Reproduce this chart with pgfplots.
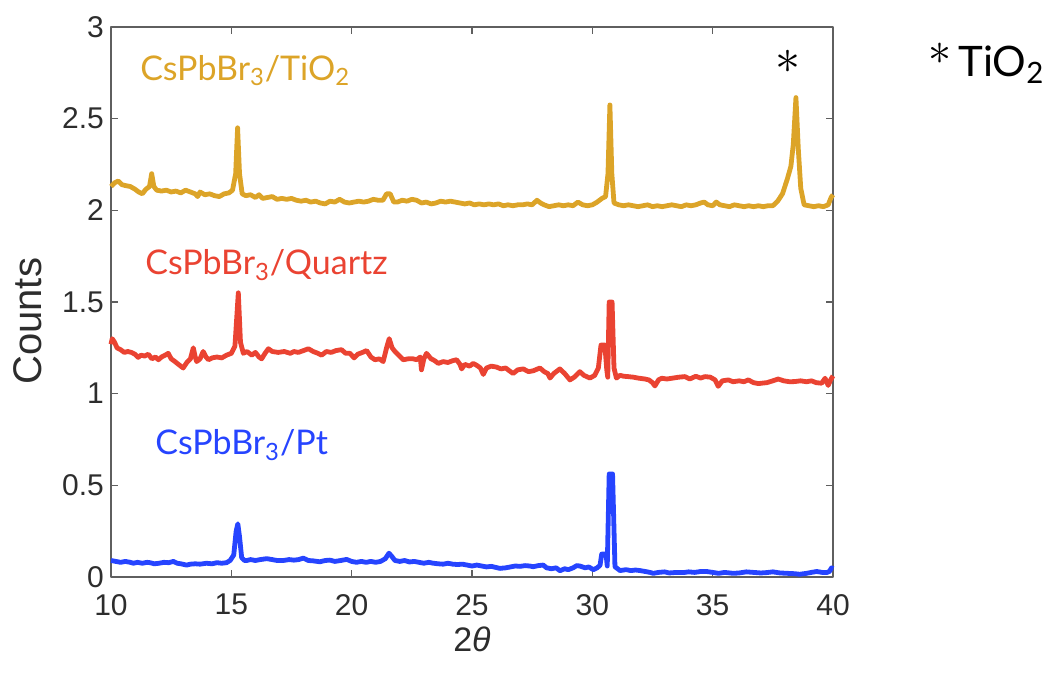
\documentclass[border=0pt]{standalone}
\usepackage{fontspec}
\setmainfont{Liberation Sans}
\newfontfamily\labelfont{Lato}
\usepackage{graphicx}
\usepackage{pgfplots}
\usepackage{pgfplotstable}
\pgfplotsset{compat=1.18}

\definecolor{goldline}{RGB}{220,164,40}
\definecolor{redline}{RGB}{234,67,50}
\definecolor{blueline}{RGB}{38,68,255}
\definecolor{axisgray}{RGB}{95,95,95}
\definecolor{ticktext}{RGB}{45,45,45}

% asterisk used to flag the TiO2 reflection
\newcommand{\refstar}[1]{{\fontsize{10}{12}\selectfont\scalebox{#1}{$\ast$}}}

% XRD patterns, offset vertically by substrate
\pgfplotstableread{
x y
10.00 2.13
10.15 2.15
10.30 2.16
10.45 2.14
10.60 2.135
10.80 2.13
11.00 2.115
11.15 2.10
11.30 2.09
11.45 2.115
11.60 2.13
11.69 2.20
11.78 2.13
11.90 2.11
12.10 2.105
12.30 2.11
12.50 2.10
12.70 2.105
12.90 2.095
13.10 2.11
13.30 2.10
13.50 2.09
13.60 2.075
13.70 2.10
13.90 2.085
14.10 2.09
14.30 2.08
14.50 2.075
14.70 2.09
14.90 2.095
15.05 2.11
15.18 2.20
15.26 2.45
15.34 2.20
15.45 2.09
15.60 2.08
15.80 2.085
16.00 2.07
16.15 2.085
16.30 2.065
16.50 2.07
16.70 2.075
16.90 2.06
17.10 2.065
17.30 2.06
17.50 2.065
17.70 2.055
17.90 2.05
18.10 2.055
18.30 2.045
18.50 2.05
18.70 2.04
18.90 2.035
19.10 2.05
19.30 2.045
19.50 2.06
19.70 2.045
19.90 2.04
20.10 2.045
20.30 2.05
20.50 2.045
20.70 2.05
20.90 2.06
21.10 2.055
21.30 2.055
21.45 2.09
21.60 2.09
21.75 2.045
21.90 2.045
22.10 2.055
22.30 2.05
22.50 2.06
22.70 2.055
22.90 2.04
23.10 2.045
23.30 2.035
23.50 2.04
23.70 2.05
23.90 2.045
24.10 2.05
24.30 2.045
24.50 2.04
24.70 2.035
24.90 2.04
25.10 2.03
25.30 2.035
25.50 2.03
25.70 2.035
25.90 2.03
26.10 2.035
26.30 2.025
26.50 2.03
26.70 2.025
26.90 2.03
27.10 2.03
27.30 2.035
27.50 2.03
27.70 2.055
27.85 2.04
28.00 2.03
28.20 2.02
28.40 2.025
28.60 2.03
28.80 2.025
29.00 2.03
29.20 2.025
29.40 2.045
29.60 2.03
29.80 2.025
30.00 2.03
30.20 2.045
30.40 2.065
30.55 2.075
30.65 2.20
30.73 2.575
30.81 2.20
30.90 2.04
31.10 2.03
31.30 2.025
31.50 2.03
31.70 2.025
31.90 2.02
32.10 2.025
32.30 2.03
32.50 2.02
32.70 2.025
32.90 2.02
33.10 2.025
33.30 2.03
33.50 2.025
33.70 2.02
33.90 2.03
34.10 2.025
34.30 2.03
34.50 2.04
34.65 2.045
34.80 2.03
35.00 2.025
35.15 2.045
35.30 2.03
35.50 2.025
35.70 2.02
35.90 2.03
36.10 2.025
36.30 2.02
36.50 2.025
36.70 2.02
36.90 2.025
37.10 2.02
37.30 2.025
37.50 2.025
37.70 2.05
37.90 2.09
38.10 2.17
38.25 2.24
38.35 2.36
38.46 2.615
38.56 2.33
38.66 2.12
38.80 2.03
39.00 2.025
39.20 2.02
39.40 2.025
39.60 2.02
39.80 2.03
39.92 2.07
40.00 2.085
}\tiotwo

\pgfplotstableread{
x y
10.00 1.27
10.05 1.30
10.15 1.28
10.25 1.25
10.40 1.24
10.55 1.225
10.70 1.23
10.85 1.225
11.00 1.215
11.13 1.198
11.25 1.21
11.40 1.205
11.55 1.215
11.70 1.19
11.85 1.20
11.97 1.185
12.10 1.20
12.25 1.21
12.38 1.22
12.50 1.19
12.66 1.175
12.80 1.16
13.00 1.14
13.15 1.17
13.30 1.19
13.42 1.25
13.50 1.20
13.56 1.175
13.70 1.19
13.83 1.23
13.95 1.20
14.05 1.185
14.20 1.195
14.40 1.20
14.60 1.195
14.80 1.21
15.00 1.22
15.15 1.26
15.29 1.55
15.38 1.28
15.50 1.22
15.65 1.23
15.85 1.21
16.00 1.225
16.15 1.20
16.26 1.19
16.40 1.22
16.54 1.245
16.70 1.23
16.95 1.225
17.20 1.23
17.45 1.22
17.60 1.23
17.78 1.225
18.00 1.235
18.20 1.245
18.40 1.23
18.60 1.22
18.75 1.21
18.95 1.23
19.15 1.225
19.35 1.235
19.58 1.24
19.75 1.22
19.93 1.22
20.10 1.195
20.25 1.215
20.45 1.225
20.62 1.235
20.80 1.20
20.97 1.185
21.15 1.19
21.31 1.175
21.45 1.25
21.56 1.30
21.68 1.25
21.80 1.23
21.95 1.21
22.14 1.185
22.35 1.19
22.55 1.19
22.70 1.185
22.85 1.20
22.90 1.13
23.00 1.19
23.11 1.22
23.30 1.19
23.45 1.18
23.60 1.165
23.80 1.175
24.00 1.17
24.20 1.18
24.36 1.185
24.50 1.16
24.57 1.135
24.70 1.16
24.90 1.15
25.05 1.165
25.19 1.155
25.35 1.14
25.47 1.105
25.60 1.14
25.80 1.15
26.02 1.145
26.20 1.135
26.40 1.14
26.55 1.125
26.71 1.11
26.90 1.13
27.13 1.135
27.35 1.12
27.55 1.125
27.82 1.14
28.00 1.12
28.15 1.11
28.24 1.085
28.40 1.11
28.65 1.135
28.85 1.11
29.07 1.075
29.25 1.09
29.48 1.12
29.65 1.10
29.90 1.085
30.10 1.10
30.25 1.14
30.36 1.265
30.52 1.265
30.60 1.13
30.64 1.09
30.70 1.50
30.82 1.50
30.90 1.14
31.00 1.085
31.15 1.10
31.30 1.095
31.49 1.093
31.70 1.09
31.90 1.085
32.18 1.08
32.35 1.075
32.50 1.06
32.60 1.042
32.75 1.075
32.88 1.084
33.10 1.08
33.35 1.085
33.60 1.09
33.85 1.093
34.05 1.08
34.30 1.095
34.50 1.085
34.68 1.093
34.90 1.09
35.10 1.075
35.23 1.04
35.40 1.07
35.65 1.075
35.85 1.065
36.10 1.07
36.30 1.065
36.48 1.075
36.70 1.06
36.90 1.055
37.03 1.057
37.25 1.06
37.50 1.07
37.72 1.08
37.95 1.07
38.20 1.065
38.42 1.066
38.65 1.07
38.90 1.065
39.11 1.07
39.30 1.06
39.53 1.057
39.67 1.084
39.80 1.045
39.90 1.075
40.00 1.097
}\quartz

\pgfplotstableread{
x y
10.00 0.09
10.20 0.085
10.40 0.08
10.60 0.085
10.80 0.08
10.93 0.075
11.10 0.08
11.30 0.075
11.50 0.08
11.62 0.078
11.80 0.072
12.00 0.075
12.20 0.08
12.40 0.078
12.59 0.085
12.75 0.075
12.90 0.072
13.14 0.065
13.30 0.07
13.50 0.072
13.70 0.07
13.97 0.075
14.20 0.072
14.40 0.078
14.60 0.075
14.80 0.078
14.95 0.09
15.10 0.12
15.20 0.25
15.27 0.29
15.34 0.22
15.43 0.105
15.55 0.09
15.64 0.09
15.80 0.095
16.00 0.09
16.20 0.095
16.47 0.10
16.70 0.095
16.90 0.09
17.16 0.09
17.40 0.095
17.60 0.092
17.80 0.095
17.99 0.103
18.20 0.09
18.40 0.088
18.68 0.083
18.90 0.09
19.10 0.092
19.30 0.085
19.55 0.09
19.79 0.096
20.00 0.085
20.20 0.08
20.40 0.085
20.60 0.08
20.80 0.085
21.00 0.08
21.20 0.085
21.40 0.10
21.55 0.13
21.65 0.115
21.80 0.09
22.00 0.085
22.20 0.09
22.40 0.082
22.60 0.085
22.80 0.08
23.00 0.075
23.20 0.08
23.40 0.075
23.60 0.072
23.80 0.07
24.00 0.075
24.20 0.07
24.40 0.068
24.60 0.07
24.80 0.065
25.00 0.06
25.20 0.065
25.40 0.06
25.60 0.055
25.80 0.058
26.00 0.052
26.16 0.047
26.40 0.05
26.60 0.055
26.80 0.06
27.00 0.058
27.20 0.062
27.40 0.06
27.54 0.056
27.75 0.062
27.96 0.065
28.10 0.05
28.30 0.045
28.50 0.05
28.65 0.034
28.85 0.045
29.00 0.04
29.20 0.05
29.35 0.062
29.48 0.06
29.70 0.05
29.85 0.055
30.04 0.04
30.20 0.05
30.32 0.064
30.39 0.125
30.57 0.125
30.62 0.06
30.70 0.562
30.84 0.562
30.94 0.056
31.15 0.035
31.40 0.04
31.60 0.035
31.80 0.038
31.98 0.035
32.20 0.03
32.40 0.025
32.53 0.02
32.75 0.025
33.00 0.028
33.20 0.022
33.50 0.025
33.78 0.024
34.00 0.028
34.25 0.025
34.50 0.03
34.75 0.03
35.00 0.025
35.25 0.02
35.50 0.025
35.85 0.02
36.10 0.022
36.40 0.028
36.70 0.025
37.00 0.022
37.24 0.024
37.50 0.028
37.80 0.022
38.10 0.02
38.40 0.018
38.62 0.015
38.90 0.02
39.10 0.025
39.32 0.03
39.55 0.025
39.73 0.024
39.85 0.03
39.94 0.05
40.00 0.045
}\platinum

\begin{document}
\begin{tikzpicture}
\begin{axis}[
  at={(0,0)}, anchor=south west,
  scale only axis, width=361pt, height=275pt,
  xmin=10, xmax=40, ymin=0, ymax=3,
  xtick={10,15,20,25,30,35,40},
  ytick={0,0.5,1,1.5,2,2.5,3},
  tick align=inside, major tick length=3.5pt,
  axis line style={axisgray, line width=0.7pt},
  every tick/.style={axisgray, line width=0.7pt},
  /pgf/number format/assume math mode=true,
  tick label style={font=\fontsize{15}{18}\selectfont, text=ticktext},
  xticklabel style={yshift=-5pt},
  xlabel={2\textit{θ}},
  ylabel={Counts},
  every axis x label/.style={at={(axis description cs:0.5,-0.113)}, anchor=center,
    font=\fontsize{17}{20}\selectfont, text=ticktext},
  every axis y label/.style={at={(axis description cs:-0.115,0.465)}, anchor=center, rotate=90,
    font=\fontsize{20}{24}\selectfont, text=ticktext},
  clip=false,
  line join=round,
]
\addplot[goldline, line width=2.4pt] table[x=x, y=y] {\tiotwo};
\addplot[redline, line width=2.4pt] table[x=x, y=y] {\quartz};
\addplot[blueline, line width=2.4pt] table[x=x, y=y] {\platinum};

\node[anchor=base west, text=goldline, font=\labelfont\fontsize{17}{20}\selectfont, inner sep=0pt]
  at (axis cs:11.2,2.71) {CsPbBr\textsubscript{3}/TiO\textsubscript{2}};
\node[anchor=base west, text=redline, font=\labelfont\fontsize{17}{20}\selectfont, inner sep=0pt]
  at (axis cs:11.41,1.648) {CsPbBr\textsubscript{3}/Quartz};
\node[anchor=base west, text=blueline, font=\labelfont\fontsize{17}{20}\selectfont, inner sep=0pt]
  at (axis cs:11.83,0.666) {CsPbBr\textsubscript{3}/Pt};
% marker for the anatase reflection
\node[anchor=center, inner sep=0pt]
  at (axis cs:38.13,2.81) {\refstar{2.5}};
\node[anchor=base west, font=\labelfont\fontsize{21}{25}\selectfont, inner sep=0pt]
  at (axis cs:43.95,2.728) {\raisebox{6pt}{\refstar{2.3}}\,TiO\textsubscript{2}};
\end{axis}
\path (-55.5pt,-48pt) rectangle (468pt,288.5pt);
\end{tikzpicture}
\end{document}
